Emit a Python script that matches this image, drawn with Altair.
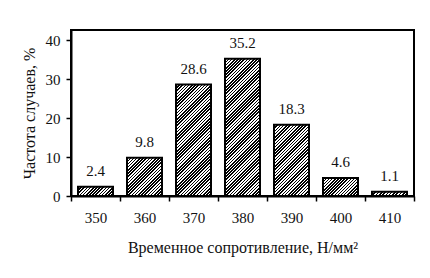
import altair as alt
import pandas as pd

# Tensile strength classes (N/mm²) and frequency of occurrence (%)
strength = [350, 360, 370, 380, 390, 400, 410]
frequency = [2.4, 9.8, 28.6, 35.2, 18.3, 4.6, 1.1]

df = pd.DataFrame({"strength": strength, "freq": frequency})

FONT = "Liberation Serif"
PLOT_W, PLOT_H = 343, 166
Y_MAX = 42.6
BAND_FRAC = 0.714
STEP = PLOT_W / len(strength)
BAR_W = STEP * BAND_FRAC
PX_PER_UNIT = PLOT_H / Y_MAX
HATCH_PERIOD = 3.2   # horizontal spacing of the hatch lines, px
HATCH_INK = 0.5      # share of each period drawn black


def hatch(value):
    """Diagonal '////' hatch as a hard-stop linear gradient sized to one bar."""
    w = BAR_W
    h = max(value * PX_PER_UNIT, 1.0)
    k = (w + h) / (w * w + h * h)
    n = max(1, round((w + h) / HATCH_PERIOD))
    stops = []
    for i in range(n):
        a = i / n
        b = (i + HATCH_INK) / n
        c = (i + 1) / n
        stops += [
            {"offset": a, "color": "black"},
            {"offset": b, "color": "black"},
            {"offset": b, "color": "white"},
            {"offset": c, "color": "white"},
        ]
    return {"gradient": "linear", "x1": 0, "y1": 0,
            "x2": w * k, "y2": h * k, "stops": stops}


x_enc = alt.X(
    "strength:O",
    title="Временное сопротивление, Н/мм²",
    scale=alt.Scale(paddingInner=0, paddingOuter=0),
    axis=alt.Axis(labelAngle=0, tickBand="extent", tickSize=5, labelPadding=9,
                  titlePadding=14),
)
y_enc = alt.Y(
    "freq:Q",
    title="Частота случаев, %",
    scale=alt.Scale(domain=[0, Y_MAX], nice=False),
    axis=alt.Axis(values=[0, 10, 20, 30, 40], tickSize=5, labelPadding=6,
                  titlePadding=8, grid=False),
)

base = alt.Chart(df)

bars = [
    base.transform_filter(alt.datum.strength == s)
    .mark_bar(fill=hatch(v), stroke="black", strokeWidth=2,
              width=alt.RelativeBandSize(BAND_FRAC))
    .encode(x=x_enc, y=y_enc)
    for s, v in zip(strength, frequency)
]

labels = base.mark_text(
    font=FONT, fontSize=15, color="#111111", baseline="alphabetic", dy=-11
).encode(x=x_enc, y=y_enc, text=alt.Text("freq:Q", format=".1f"))

chart = (
    alt.layer(*bars, labels)
    .properties(
        width=PLOT_W, height=PLOT_H,
        autosize=alt.AutoSizeParams(type="none"),
        padding={"left": 71, "top": 30, "right": 16, "bottom": 82},
        background="white",
    )
    .configure_view(stroke="black", strokeWidth=2)
    .configure_axis(
        labelFont=FONT, titleFont=FONT, labelFontSize=15, titleFontSize=16,
        labelColor="#111111", titleColor="#111111", titleFontWeight="normal",
        domainColor="black", domainWidth=2, tickColor="black", tickWidth=1.5,
    )
)

chart.save("out.html", embed_options={"renderer": "svg", "actions": False})
